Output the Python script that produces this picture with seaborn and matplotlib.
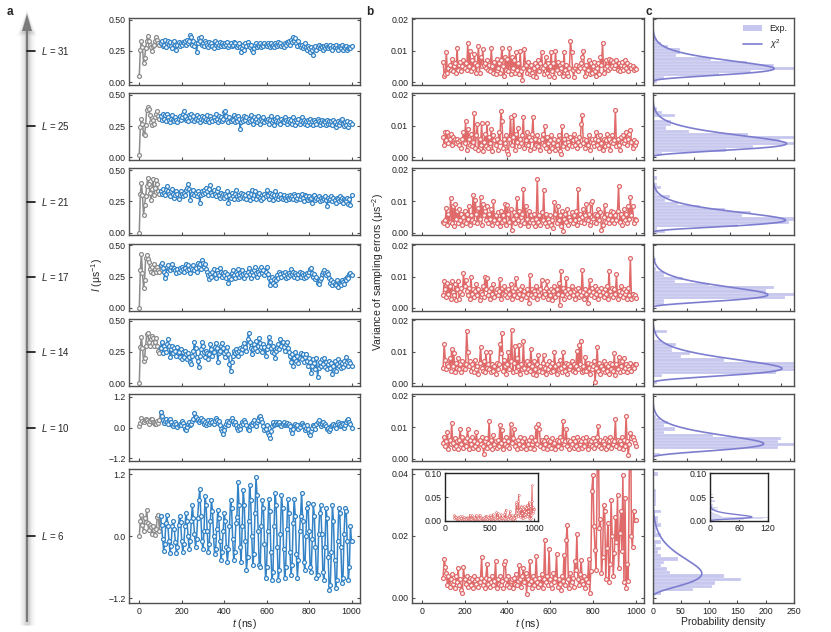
import math
import numpy as np
import matplotlib
matplotlib.use('Agg')
import matplotlib.pyplot as plt
from matplotlib.patches import Patch
from matplotlib.lines import Line2D
from matplotlib.ticker import MultipleLocator
import seaborn as sns

# ---- data ----
# panel a: I in units of 0.01 us^-1, t = 0, 5, ..., 1000 ns (first 20 points grey)
I_L31 = [5, 26, 33, 28, 15, 19, 27, 33, 37, 33, 30, 28, 25, 29, 30, 33, 36, 34, 31, 30,
         31, 33, 29, 30, 34, 28, 31, 33, 30, 32, 29, 27, 31, 33, 30, 26, 30, 32, 29, 31,
         30, 32, 31, 33, 30, 34, 31, 33, 38, 36, 30, 33, 29, 31, 24, 31, 35, 33, 36, 30,
         31, 29, 33, 31, 30, 28, 32, 30, 31, 29, 27, 33, 30, 31, 28, 30, 32, 29, 31, 30,
         29, 31, 30, 32, 28, 30, 31, 29, 30, 32, 31, 29, 28, 30, 31, 28, 24, 27, 30, 26,
         31, 29, 32, 30, 28, 30, 26, 24, 27, 30, 31, 28, 30, 29, 31, 28, 30, 29, 31, 30,
         29, 31, 30, 28, 31, 29, 30, 28, 31, 30, 29, 32, 30, 31, 29, 30, 28, 31, 30, 32,
         31, 33, 30, 34, 32, 36, 33, 35, 31, 29, 33, 30, 28, 30, 27, 29, 31, 28, 26, 29,
         27, 24, 28, 26, 22, 27, 29, 26, 28, 30, 27, 29, 28, 26, 29, 27, 30, 28, 27, 29,
         30, 27, 26, 29, 28, 30, 27, 26, 29, 28, 27, 30, 26, 28, 27, 29, 26, 27, 28, 27,
         29]
I_L25 = [2, 24, 31, 27, 19, 18, 26, 38, 40, 39, 34, 28, 26, 30, 27, 32, 35, 37, 33, 31,
         33, 30, 35, 31, 34, 29, 35, 32, 30, 28, 31, 34, 30, 29, 32, 30, 28, 31, 33, 30,
         32, 35, 37, 33, 30, 31, 29, 34, 32, 35, 30, 33, 29, 31, 34, 30, 32, 28, 31, 33,
         30, 32, 29, 31, 34, 30, 28, 33, 31, 29, 32, 30, 35, 31, 28, 33, 30, 32, 29, 31,
         36, 37, 33, 30, 28, 32, 29, 31, 30, 34, 28, 32, 29, 33, 31, 23, 28, 31, 29, 33,
         30, 32, 28, 31, 29, 34, 30, 27, 32, 29, 31, 28, 33, 30, 27, 31, 29, 32, 28, 30,
         29, 31, 27, 30, 33, 28, 30, 26, 31, 29, 32, 28, 30, 27, 31, 29, 28, 32, 30, 27,
         29, 31, 28, 30, 27, 32, 29, 26, 30, 28, 31, 27, 29, 32, 28, 30, 27, 29, 26, 30,
         28, 31, 27, 29, 26, 30, 28, 27, 31, 29, 26, 28, 30, 27, 29, 28, 26, 30, 27, 29,
         27, 29, 26, 30, 28, 24, 27, 29, 26, 28, 30, 31, 27, 25, 28, 26, 29, 24, 27, 28,
         27]
I_L21 = [0, 31, 40, 30, 14, 22, 29, 37, 44, 39, 32, 26, 35, 43, 30, 36, 42, 39, 33, 31,
         33, 31, 35, 32, 30, 34, 37, 33, 31, 29, 33, 35, 31, 28, 30, 33, 31, 27, 30, 33,
         31, 29, 32, 30, 34, 36, 39, 35, 26, 33, 31, 34, 30, 32, 29, 33, 31, 24, 30, 33,
         31, 34, 32, 36, 33, 30, 35, 38, 32, 30, 34, 31, 29, 33, 36, 30, 28, 32, 29, 31,
         28, 31, 29, 33, 24, 30, 28, 32, 29, 27, 31, 34, 29, 27, 30, 28, 32, 29, 31, 28,
         30, 27, 32, 29, 26, 31, 34, 28, 30, 33, 27, 30, 29, 32, 28, 26, 30, 28, 31, 29,
         34, 30, 27, 32, 29, 31, 26, 30, 33, 28, 30, 27, 29, 31, 28, 27, 30, 28, 26, 29,
         28, 27, 30, 28, 29, 27, 31, 29, 26, 28, 30, 27, 29, 31, 28, 25, 30, 29, 27, 26,
         29, 27, 28, 24, 29, 30, 26, 28, 27, 29, 25, 28, 26, 28, 27, 29, 26, 21, 28, 26,
         27, 29, 25, 28, 26, 24, 28, 27, 25, 29, 26, 28, 24, 27, 26, 25, 28, 23, 27, 22,
         30]
I_L17 = [0, 30, 43, 28, 16, 22, 40, 42, 39, 37, 31, 29, 33, 28, 35, 31, 29, 33, 30, 29,
         34, 36, 32, 29, 24, 27, 33, 34, 31, 30, 33, 35, 31, 32, 30, 28, 31, 29, 32, 30,
         33, 31, 29, 32, 35, 30, 34, 31, 28, 33, 31, 34, 30, 32, 29, 36, 33, 35, 31, 38,
         36, 33, 35, 31, 29, 26, 23, 27, 25, 29, 31, 27, 24, 30, 28, 26, 32, 29, 25, 28,
         26, 29, 24, 27, 20, 25, 23, 28, 30, 26, 24, 29, 27, 31, 25, 28, 26, 30, 27, 24,
         28, 26, 29, 32, 27, 24, 29, 26, 30, 33, 28, 25, 29, 27, 31, 33, 28, 30, 26, 29,
         33, 27, 24, 18, 22, 25, 20, 23, 18, 22, 26, 24, 29, 27, 25, 28, 26, 29, 24, 27,
         25, 28, 26, 31, 27, 29, 25, 28, 26, 24, 27, 29, 25, 28, 26, 24, 27, 25, 28, 26,
         29, 31, 32, 28, 25, 27, 23, 25, 20, 19, 22, 24, 27, 29, 30, 28, 26, 29, 27, 24,
         20, 22, 18, 21, 19, 18, 22, 17, 20, 19, 18, 22, 21, 19, 23, 22, 25, 24, 27, 28,
         26]
I_L14 = [0, 29, 37, 28, 18, 20, 30, 39, 40, 33, 30, 35, 38, 36, 30, 33, 36, 30, 26, 24,
         28, 33, 24, 30, 27, 25, 31, 35, 30, 21, 27, 30, 24, 28, 26, 22, 29, 25, 21, 27,
         19, 25, 21, 26, 23, 19, 24, 21, 17, 15, 22, 26, 33, 28, 21, 18, 13, 22, 27, 33,
         30, 25, 21, 26, 24, 19, 23, 31, 27, 22, 25, 29, 32, 28, 17, 24, 26, 30, 32, 28,
         24, 21, 26, 29, 23, 15, 10, 17, 22, 26, 24, 27, 25, 22, 26, 28, 24, 27, 30, 32,
         29, 26, 35, 40, 33, 28, 23, 27, 31, 28, 34, 26, 30, 36, 32, 29, 25, 31, 29, 22,
         27, 30, 37, 33, 28, 25, 30, 24, 20, 26, 28, 31, 27, 35, 30, 33, 29, 26, 31, 33,
         28, 25, 22, 17, 23, 14, 20, 25, 18, 22, 16, 20, 24, 19, 23, 17, 21, 23, 18, 14,
         20, 17, 8, 14, 19, 16, 11, 20, 5, 12, 17, 14, 19, 15, 20, 13, 17, 11, 15, 18,
         12, 16, 7, 14, 18, 10, 15, 19, 14, 17, 12, 16, 13, 18, 15, 21, 17, 14, 18, 16,
         14]
I_L10 = [5, 18, 37, 25, 20, 28, 35, 30, 20, 15, 25, 35, 32, 22, 18, 12, 15, 25, 18, 30,
         62, 45, 30, 18, 25, 32, 20, 15, 28, 35, 22, 10, 5, 15, 22, 12, 2, 8, 15, 10,
         25, 18, 5, -5, -10, 2, 12, 20, 8, 15, 25, 35, 55, 42, 30, 35, 20, 28, 38, 25,
         30, 15, 22, 10, 18, 28, 15, 22, 30, 20, 12, 25, 38, 30, 18, 25, 10, -5, -15, -25,
         -10, 5, 15, 25, 10, 20, 30, 38, 25, 15, 20, 10, 0, -10, 5, -5, 10, 20, 15, 28,
         22, 10, -5, -10, 5, 15, 8, 20, 28, 15, 5, 20, 30, 40, 45, 32, 20, 5, -10, -5,
         10, -20, -30, -40, -15, 5, 20, 10, 15, 22, 12, 18, 20, 10, 5, 15, 20, 8, 12, 18,
         10, 15, 5, -10, -20, -5, 8, 15, 5, 10, -5, 2, 12, 18, 10, 5, -8, 0, 10, -5,
         -20, -30, -15, 0, 10, 5, -5, 12, 20, 28, 15, 5, 12, 20, 10, 15, 5, -5, 0, -12,
         -5, 5, 10, 15, 8, -2, 12, 20, 15, 5, 10, 18, 12, 0, 10, 20, 28, 35, 22, 15,
         0]
I_L6 = [0, 30, 42, 22, 10, 35, 28, 52, 25, 12, 22, 18, 5, 20, 12, 2, 15, 38, 42, 10,
        40, 22, -5, -28, -15, 25, 42, 20, -10, -32, -18, 20,
        30, 15, -12, -33, -20, 22, 40, 28, -10, -30, -15, 20,
        45, 30, 0, -25, -10, 30, 60, 35, 5, -20, -5, 35,
        70, 92, 40, -10, -25, 10, 78, 60, 10, -30, -15, 30,
        70, 50, 0, -35, -25, 15, 52, 35, -10, -45, -30, 10,
        45, 30, -20, -50, -25, 20, 70, 55, -5, -45, -30, 25,
        38, 105, 60, -20, -50, 20, 90, 60, -10, -65, -40, 30,
        100, 70, 0, -55, -35, 45, 115, 80, 10, -55, -60, 20,
        70, 55, -15, -80, -60, 10, 72, 50, -30, -85, -70, 20,
        85, 60, -20, -85, -65, 5, 80, 55, -25, -80, -60, 15,
        72, 45, -30, -75, -55, 25, 72, 40, -35, -80, -45, 10,
        40, 85, 30, -50, -65, 0, 55, 65, 10, -60, -70, -5,
        62, 40, -20, -80, -75, 5, 45, 60, 5, -70, -85, -20,
        55, 35, -40, -105, -95, -30, 60, 30, -45, -100, -85, -10,
        55, 45, -20, -90, -80, 5, 55, 50, -10, -85, -60, 20,
        -10]

# panel b: variance of sampling errors in units of 1e-4 us^-2, t = 100, 105, ..., 1000 ns
V_L31 = [65, 20, 25, 95, 30, 45, 55, 40, 75, 35, 50, 60, 30, 110, 40, 55, 65, 35, 50, 70,
         45, 60, 40, 125, 50, 100, 35, 70, 45, 90, 60, 30, 55, 115, 28, 80, 50, 105, 55, 60,
         45, 70, 40, 55, 35, 108, 50, 30, 65, 25, 75, 45, 60, 30, 70, 110, 50, 20, 80, 40,
         75, 35, 110, 25, 80, 45, 70, 30, 95, 40, 60, 25, 100, 35, 8, 45, 105, 55, 30, 65,
         40, 25, 55, 30, 20, 45, 60, 15, 50, 70, 35, 60, 95, 45, 25, 55, 80, 30, 60, 20,
         50, 95, 35, 60, 15, 100, 40, 65, 30, 55, 45, 60, 20, 95, 40, 55, 30, 20, 45, 132,
         95, 40, 15, 45, 55, 40, 35, 50, 45, 60, 80, 100, 45, 20, 55, 40, 70, 25, 60, 30,
         50, 65, 35, 20, 45, 60, 25, 80, 55, 125, 30, 45, 70, 50, 40, 75, 45, 70, 50, 65,
         45, 55, 70, 40, 60, 35, 55, 65, 40, 50, 70, 45, 60, 35, 50, 55, 45, 50, 40, 45,
         42]
V_L25 = [65, 40, 80, 55, 80, 45, 60, 75, 40, 65, 55, 60, 45, 60, 50, 40, 55, 30, 60, 80,
         45, 115, 25, 90, 60, 40, 75, 35, 50, 140, 30, 70, 105, 25, 60, 40, 110, 20, 50, 75,
         35, 110, 30, 65, 45, 90, 20, 70, 55, 40, 60, 25, 80, 50, 148, 115, 30, 60, 45, 70,
         20, 12, 60, 130, 40, 65, 135, 25, 75, 50, 95, 35, 60, 45, 70, 130, 30, 55, 80, 40,
         65, 25, 55, 75, 130, 30, 60, 40, 70, 35, 55, 25, 60, 75, 40, 100, 30, 65, 45, 20,
         55, 70, 30, 45, 60, 25, 40, 55, 70, 20, 10, 100, 35, 60, 45, 70, 30, 50, 40, 65,
         35, 55, 75, 40, 60, 30, 50, 65, 40, 105, 135, 45, 60, 30, 55, 40, 70, 25, 50, 60,
         45, 35, 60, 80, 40, 55, 30, 70, 45, 25, 60, 35, 55, 75, 40, 60, 25, 50, 70, 45,
         55, 150, 35, 60, 40, 25, 65, 50, 70, 45, 55, 80, 40, 60, 75, 87, 50, 30, 55, 40,
         50]
V_L21 = [35, 30, 40, 80, 25, 60, 35, 110, 30, 85, 20, 90, 45, 70, 30, 75, 40, 60, 25, 50,
         70, 30, 60, 45, 85, 25, 55, 40, 120, 35, 105, 60, 30, 80, 45, 115, 25, 90, 55, 70,
         40, 85, 30, 60, 45, 75, 25, 100, 40, 55, 30, 65, 45, 20, 70, 35, 55, 40, 90, 25,
         88, 60, 35, 75, 8, 45, 65, 30, 55, 110, 40, 70, 25, 50, 60, 140, 30, 85, 45, 20,
         70, 35, 55, 40, 30, 60, 20, 45, 170, 35, 55, 25, 65, 40, 135, 30, 60, 20, 45, 35,
         55, 25, 40, 15, 97, 60, 30, 85, 40, 55, 20, 70, 5, 45, 60, 35, 75, 25, 50, 40,
         65, 30, 55, 40, 70, 25, 140, 45, 60, 35, 50, 75, 30, 55, 90, 40, 60, 25, 95, 100,
         45, 35, 60, 30, 55, 75, 40, 65, 8, 25, 50, 88, 35, 60, 45, 30, 55, 70, 40, 65,
         30, 55, 40, 70, 150, 35, 60, 25, 50, 75, 40, 60, 30, 85, 45, 115, 55, 85, 30, 45,
         40]
V_L17 = [40, 85, 60, 35, 80, 45, 70, 30, 85, 50, 40, 75, 25, 60, 85, 30, 50, 65, 45, 110,
         70, 90, 55, 40, 65, 30, 100, 45, 60, 35, 55, 75, 40, 60, 25, 50, 45, 70, 35, 98,
         60, 95, 40, 55, 30, 65, 45, 75, 35, 50, 60, 40, 55, 93, 30, 65, 45, 70, 40, 55,
         35, 60, 45, 75, 30, 55, 40, 65, 95, 35, 55, 45, 60, 30, 70, 40, 55, 35, 60, 45,
         15, 105, 40, 60, 35, 55, 45, 70, 30, 55, 40, 60, 90, 35, 55, 45, 65, 85, 30, 55,
         40, 60, 25, 55, 70, 35, 60, 45, 80, 10, 118, 40, 65, 30, 55, 95, 45, 60, 35, 50,
         70, 40, 55, 30, 60, 45, 65, 35, 55, 40, 120, 50, 30, 60, 45, 15, 55, 90, 40, 65,
         50, 35, 70, 45, 60, 30, 55, 40, 65, 50, 35, 60, 45, 70, 30, 118, 55, 40, 65, 35,
         60, 45, 108, 30, 55, 40, 70, 50, 35, 60, 45, 55, 30, 65, 40, 158, 30, 45, 35, 40,
         32]
V_L14 = [50, 125, 75, 45, 60, 55, 80, 40, 110, 55, 95, 35, 65, 50, 80, 45, 60, 35, 70, 50,
         45, 60, 165, 100, 55, 70, 40, 60, 50, 35, 75, 45, 55, 30, 65, 115, 50, 40, 70, 35,
         98, 50, 60, 45, 98, 35, 60, 40, 55, 30, 65, 45, 60, 125, 95, 160, 40, 75, 55, 30,
         60, 100, 45, 70, 168, 35, 65, 120, 40, 80, 55, 122, 30, 60, 45, 133, 50, 35, 70, 45,
         60, 40, 110, 55, 30, 70, 45, 25, 60, 90, 40, 55, 35, 65, 90, 50, 30, 60, 45, 70,
         55, 35, 65, 40, 100, 55, 30, 60, 45, 75, 50, 35, 98, 55, 40, 65, 30, 60, 45, 55,
         70, 40, 60, 35, 55, 102, 45, 122, 60, 133, 35, 55, 40, 85, 40, 65, 50, 30, 60, 45,
         55, 70, 5, 50, 115, 40, 65, 30, 55, 45, 70, 35, 60, 40, 55, 30, 65, 45, 60, 40,
         95, 25, 60, 45, 85, 35, 55, 70, 40, 80, 50, 60, 35, 55, 45, 65, 40, 55, 50, 60,
         60]
V_L10 = [48, 70, 40, 55, 85, 30, 60, 45, 113, 50, 35, 65, 40, 55, 30, 60, 93, 45, 70, 35,
         55, 40, 65, 95, 30, 60, 45, 70, 35, 55, 40, 85, 50, 30, 60, 45, 70, 40, 15, 55,
         65, 35, 50, 120, 40, 60, 30, 75, 45, 55, 35, 60, 40, 105, 50, 90, 30, 60, 45, 70,
         40, 55, 35, 110, 50, 65, 95, 40, 55, 30, 60, 45, 70, 35, 55, 40, 65, 30, 55, 45,
         60, 35, 70, 45, 55, 30, 60, 100, 45, 110, 95, 40, 60, 35, 55, 45, 70, 30, 60, 40,
         55, 35, 65, 45, 50, 30, 60, 40, 55, 70, 35, 60, 118, 45, 55, 95, 40, 60, 30, 55,
         45, 65, 35, 55, 40, 70, 30, 60, 45, 55, 35, 65, 40, 55, 70, 30, 60, 45, 55, 40,
         65, 35, 55, 45, 70, 103, 40, 60, 35, 55, 45, 65, 30, 60, 40, 55, 70, 35, 60, 45,
         55, 125, 40, 60, 35, 55, 45, 70, 30, 60, 40, 135, 55, 10, 45, 80, 65, 70, 60, 50,
         40]
V_L6 = [65, 125, 100, 80, 40, 70, 35, 60, 75, 45, 55, 30, 70, 50, 95, 40, 60, 25, 15, 100,
        60, 45, 70, 35, 55, 65, 40, 60, 30, 70, 55, 45, 60, 35, 50, 65, 130, 40, 55, 30,
        65, 110, 45, 60, 35, 50, 70, 40, 55, 120, 30, 60, 45, 70, 40, 55, 30, 110, 120, 60,
        40, 70, 35, 55, 60, 30, 65, 45, 75, 40, 55, 105, 60, 35, 70, 95, 50, 80, 13, 60,
        45, 120, 55, 30, 70, 40, 60, 133, 50, 35, 65, 45, 75, 30, 60, 185, 50, 70, 40, 158,
        60, 45, 30, 80, 50, 65, 140, 35, 60, 45, 25, 70, 55, 138, 40, 185, 235, 60, 30, 80,
        50, 65, 35, 120, 90, 205, 60, 40, 75, 122, 55, 45, 70, 30, 60, 50, 125, 15, 85, 345,
        395, 230, 155, 90, 420, 550, 225, 255, 80, 130, 300, 280, 60, 160, 240, 52, 110, 315, 200, 70,
        145, 260, 180, 330, 95, 210, 280, 150, 395, 52, 320, 30, 110, 55, 420, 750, 200, 165, 280, 250,
        250]

L_values = [31, 25, 21, 17, 14, 10, 6]
I_all = [I_L31, I_L25, I_L21, I_L17, I_L14, I_L10, I_L6]
V_all = [V_L31, V_L25, V_L21, V_L17, V_L14, V_L10, V_L6]

# panel c: chi^2 fit, mode and peak density of each curve, and x-range of each panel
fit_mode = [0.0043, 0.0044, 0.0040, 0.0042, 0.0047, 0.0047, 0.0078]
fit_peak = [171, 162, 172, 168, 151, 162, 87]
hist_xmax = [199, 171, 183, 206, 165, 206, 250]

BLUE = '#3383c6'
GREY = '#8c8c8c'
RED = '#e06a6a'
HIST = '#c6c6ee'
CURVE = '#7d7dd0'
SPINE = '#505050'


def chi2_curve(y, mode, peak):
    # scaled chi^2 (gamma) density with given mode and peak height
    aa = np.linspace(1.05, 80, 8000)
    lg = np.array([math.lgamma(a) for a in aa])
    val = (aa - 1) * np.exp((aa - 1) * np.log(aa - 1) - (aa - 1) - lg)
    a = aa[np.argmin(np.abs(val - mode * peak))]
    th = mode / (a - 1)
    return np.exp((a - 1) * np.log(y) - y / th - math.lgamma(a) - a * np.log(th))


def style(ax, right=True):
    for s in ax.spines.values():
        s.set_color(SPINE)
        s.set_linewidth(1.0)
    ax.tick_params(direction='in', length=2.5, width=0.8, labelsize=6.3,
                   pad=2.5, color=SPINE, labelcolor='#222222', right=right)
    ax.set_xlabel('')
    ax.set_ylabel('')


sns.set_style('ticks')
plt.rcParams['font.family'] = ['Liberation Sans', 'DejaVu Sans']
plt.rcParams['mathtext.fontset'] = 'custom'
plt.rcParams['mathtext.rm'] = 'Liberation Sans'
plt.rcParams['mathtext.it'] = 'Liberation Sans:italic'
plt.rcParams['mathtext.bf'] = 'Liberation Sans:bold'

fig = plt.figure(figsize=(8.31, 6.32), dpi=100)

# overlay in pixel coordinates for the L arrow
ov = fig.add_axes([0, 0, 1, 1])
ov.set_xlim(0, 831)
ov.set_ylim(632, 0)
ov.axis('off')

kw = dict(top=0.972, bottom=0.0454, hspace=0.108, height_ratios=[1] * 6 + [2])
gs_a = fig.add_gridspec(7, 1, left=0.1556, right=0.4332, **kw)
gs_b = fig.add_gridspec(7, 1, left=0.4954, right=0.7753, **kw)
gs_c = fig.add_gridspec(7, 1, left=0.7854, right=0.9555, **kw)

line_kw = dict(marker='o', markersize=2.8, markerfacecolor='white',
               markeredgewidth=0.9, linewidth=1.1, estimator=None, errorbar=None)

yy = np.linspace(1e-5, 0.1, 1500)
centers = []
for i, L in enumerate(L_values):
    last = i == len(L_values) - 1
    ax_a = fig.add_subplot(gs_a[i])
    ax_b = fig.add_subplot(gs_b[i])
    ax_c = fig.add_subplot(gs_c[i], sharey=ax_b)

    # a: I(t)
    I = np.array(I_all[i]) / 100
    t = 5 * np.arange(len(I))
    sns.lineplot(x=t[:21], y=I[:21], ax=ax_a, color=GREY, markeredgecolor=GREY, **line_kw)
    sns.lineplot(x=t[20:], y=I[20:], ax=ax_a, color=BLUE, markeredgecolor=BLUE, **line_kw)
    ax_a.set_xlim(-47, 1040)
    ax_a.set_xticks(range(0, 1001, 200))
    if L >= 14:
        ax_a.set_ylim(-0.02, 0.515)
        ax_a.set_yticks([0, 0.25, 0.5])
        ax_a.set_yticklabels(['0.00', '0.25', '0.50'])
    else:
        ax_a.set_ylim(-1.3, 1.3)
        ax_a.set_yticks([-1.2, 0, 1.2])
        ax_a.set_yticklabels(['\u22121.2', '0.0', '1.2'])

    # b: variance of sampling errors
    V = np.array(V_all[i]) / 1e4
    tv = 100 + 5 * np.arange(len(V))
    sns.lineplot(x=tv, y=V, ax=ax_b, color=RED, markeredgecolor=RED, **line_kw)
    ax_b.set_xlim(-47, 1040)
    ax_b.set_xticks(range(0, 1001, 200))

    # c: histogram + chi^2
    bw = 0.0011 if last else 0.001
    sns.histplot(y=V, stat='density', binwidth=bw, binrange=(-0.00013, 0.08),
                 ax=ax_c, color=HIST, edgecolor='white', linewidth=0.15, alpha=1)
    ax_c.plot(chi2_curve(yy, fit_mode[i], fit_peak[i]), yy, color=CURVE, lw=1.2)
    ax_c.set_xlim(0, hist_xmax[i])
    ax_c.xaxis.set_major_locator(MultipleLocator(50))

    if last:
        ax_b.set_ylim(-0.0018, 0.0414)
        ax_b.set_yticks([0, 0.02, 0.04])
        ax_b.set_yticklabels(['0.00', '0.02', '0.04'])
    else:
        ax_b.set_ylim(-0.0008, 0.0205)
        ax_b.set_yticks([0, 0.01, 0.02])
        ax_b.set_yticklabels(['0.00', '0.01', '0.02'])

    style(ax_a)
    style(ax_b)
    style(ax_c, right=False)
    ax_c.tick_params(labelleft=False)
    if last:
        ax_a.set_xlabel(r'$t$ (ns)', fontsize=7.5, labelpad=1)
        ax_b.set_xlabel(r'$t$ (ns)', fontsize=7.5, labelpad=1)
        ax_c.set_xticks(range(0, 251, 50))
        ax_c.set_xlabel('Probability density', fontsize=7.5, labelpad=1)
    else:
        ax_a.tick_params(labelbottom=False)
        ax_b.tick_params(labelbottom=False)
        ax_c.tick_params(labelbottom=False)

    if i == 0:
        ax_c.legend([Patch(facecolor=HIST, edgecolor='none'),
                     Line2D([], [], color=CURVE, lw=1.2)],
                    ['Exp.', r'$\chi^2$'], loc='upper right', frameon=False,
                    fontsize=6.5, handlelength=2.2, borderaxespad=0.3,
                    labelspacing=0.5)

    pos = ax_a.get_position()
    centers.append((1 - (pos.y0 + pos.y1) / 2) * 632)

    if last:
        # insets with the full range
        ins_b = fig.add_axes([0.5355, 0.1761, 0.1123, 0.075])
        sns.lineplot(x=tv, y=V, ax=ins_b, color=RED, marker='o', markersize=1.3,
                     markerfacecolor='white', markeredgecolor=RED,
                     markeredgewidth=0.4, linewidth=0.7, estimator=None, errorbar=None)
        ins_b.set_xlim(0, 1045)
        ins_b.set_ylim(0, 0.10)
        ins_b.set_xticks([0, 500, 1000])
        ins_b.set_yticks([0, 0.05, 0.10])
        ins_b.set_yticklabels(['0.00', '0.05', '0.10'])
        style(ins_b, right=False)
        for s in ins_b.spines.values():
            s.set_color('#222222')

        ins_c = fig.add_axes([0.8548, 0.1761, 0.0691, 0.075])
        sns.histplot(y=V, stat='density', binwidth=0.0011, binrange=(-0.00013, 0.1),
                     ax=ins_c, color=HIST, edgecolor='white', linewidth=0.15, alpha=1)
        ins_c.plot(chi2_curve(yy, fit_mode[i], fit_peak[i]), yy, color=CURVE, lw=1.0)
        ins_c.set_xlim(0, 120)
        ins_c.set_ylim(0, 0.10)
        ins_c.set_xticks([0, 60, 120])
        ins_c.set_yticks([0, 0.05, 0.10])
        ins_c.set_yticklabels(['0.00', '0.05', '0.10'])
        style(ins_c, right=False)
        for s in ins_c.spines.values():
            s.set_color('#222222')

# arrow with soft shadow
for w, a in [(11, 0.04), (9, 0.05), (7, 0.07), (5, 0.09), (3.5, 0.12)]:
    ov.plot([27, 27], [625, 30], color='#808080', lw=w, alpha=a, solid_capstyle='butt')
    ov.fill([27 - 4 - w * 0.6, 27, 27 + 4 + w * 0.6], [32 + w * 0.4, 13 - w * 0.3, 32 + w * 0.4],
            color='#808080', alpha=a * 0.8, lw=0)
ov.plot([27, 27], [622, 30], color='#7a7a7a', lw=1.6, solid_capstyle='butt')
ov.fill([22, 27, 32], [31, 14, 31], color='#7a7a7a', lw=0)
for L, yc in zip(L_values, centers):
    ov.plot([27, 35], [yc, yc], color='#111111', lw=1.2)
    ov.text(41, yc, r'$L$ = %d' % L, va='center', ha='left', fontsize=7)

fig.text(97 / 831, 1 - 275 / 632, r'$I$ (μs$^{-1}$)', rotation=90,
         va='center', ha='center', fontsize=7.5)
fig.text(378 / 831, 1 - 272 / 632, r'Variance of sampling errors (μs$^{-2}$)',
         rotation=90, va='center', ha='center', fontsize=7.5)

fig.text(7 / 831, 1 - 6 / 632, 'a', fontsize=8.5, weight='bold', va='top')
fig.text(366 / 831, 1 - 6 / 632, 'b', fontsize=8.5, weight='bold', va='top')
fig.text(645 / 831, 1 - 6 / 632, 'c', fontsize=8.5, weight='bold', va='top')

fig.savefig('out.png', dpi=100)
